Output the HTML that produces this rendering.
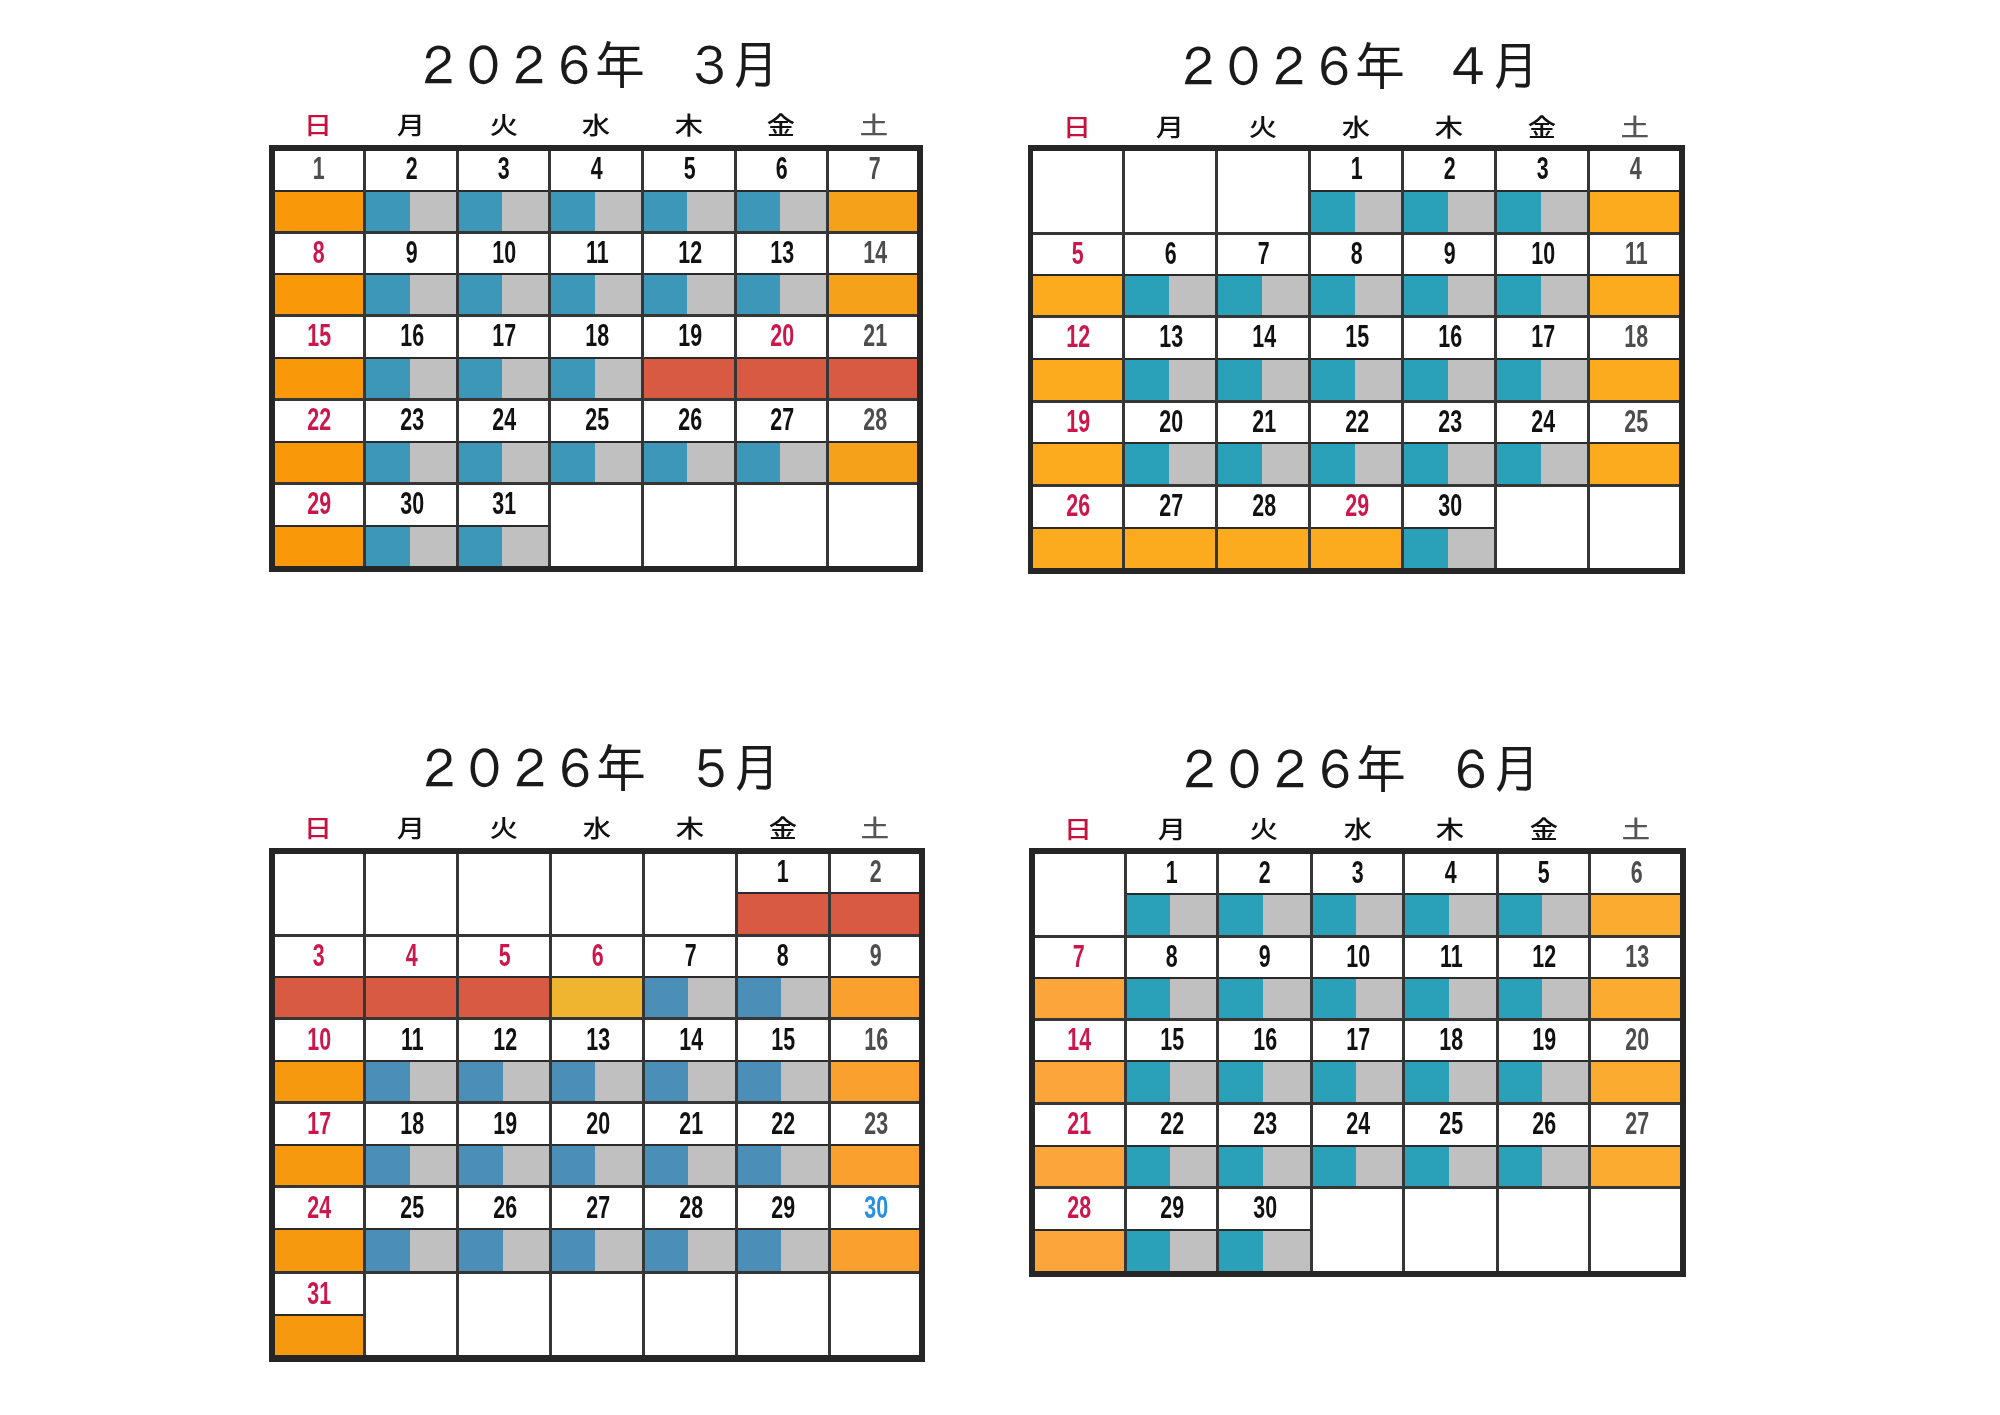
<!DOCTYPE html>
<html lang="ja"><head><meta charset="utf-8"><title>2026年 カレンダー</title>
<style>
html,body{margin:0;padding:0;background:#fff}
body{width:2000px;height:1415px;position:relative;overflow:hidden;filter:blur(0.6px);font-family:"Liberation Sans","Noto Sans CJK JP",sans-serif}
i{position:absolute;display:block}
.t{position:absolute;width:500px;height:80px;line-height:80px;text-align:center;white-space:pre;
   font-family:"Liberation Sans","IPAGothic","Noto Sans CJK JP",sans-serif;font-size:51px;letter-spacing:-5.7px;color:#1a1a1a;
   transform:scaleY(1.03);transform-origin:50% 50%}
.t .d{position:relative;top:2.3px}
.h{position:absolute;width:60px;height:40px;line-height:40px;text-align:center;
   font-family:"Liberation Sans","Noto Sans CJK JP","IPAGothic",sans-serif;font-size:24px;font-weight:500;color:#111}
.h span{display:inline-block;transform:scaleX(1.18)}
.h.sun{color:#c4123f}
.h.sat{color:#555}
.n{position:absolute;width:60px;height:40px;line-height:40px;text-align:center;
   font-family:"Liberation Sans",sans-serif;font-weight:bold;font-size:31px;color:#111}
.n span{display:inline-block;transform:scaleX(0.69)}
.n.red{color:#cb174b}
.n.blu{color:#2a8fdc}
.n.gry{color:#4d4d4d}
</style></head>
<body>
<!-- ２０２６年　３月 -->
<div class="t" style="left:344px;top:26px"><span class="d">２０２６</span>年　<span class="d">３</span>月</div>
<div class="h sun" style="left:288px;top:106px"><span>日</span></div>
<div class="h" style="left:381px;top:106px"><span>月</span></div>
<div class="h" style="left:474px;top:106px"><span>火</span></div>
<div class="h" style="left:566px;top:106px"><span>水</span></div>
<div class="h" style="left:659px;top:106px"><span>木</span></div>
<div class="h" style="left:751px;top:106px"><span>金</span></div>
<div class="h sat" style="left:844px;top:106px"><span>土</span></div>
<i style="left:272px;top:191px;width:93px;height:42px;background:#f99808"></i>
<i style="left:272px;top:190px;width:93px;height:2px;background:#2a2a2a"></i>
<div class="n gry" style="left:289px;top:149px"><span>1</span></div>
<i style="left:365px;top:191px;width:45px;height:42px;background:#3c97b8"></i>
<i style="left:410px;top:191px;width:47px;height:42px;background:#c0c0c0"></i>
<i style="left:365px;top:190px;width:93px;height:2px;background:#2a2a2a"></i>
<div class="n" style="left:382px;top:149px"><span>2</span></div>
<i style="left:457px;top:191px;width:45px;height:42px;background:#3c97b8"></i>
<i style="left:502px;top:191px;width:48px;height:42px;background:#c0c0c0"></i>
<i style="left:457px;top:190px;width:93px;height:2px;background:#2a2a2a"></i>
<div class="n" style="left:474px;top:149px"><span>3</span></div>
<i style="left:550px;top:191px;width:45px;height:42px;background:#3c97b8"></i>
<i style="left:595px;top:191px;width:47px;height:42px;background:#c0c0c0"></i>
<i style="left:550px;top:190px;width:93px;height:2px;background:#2a2a2a"></i>
<div class="n" style="left:567px;top:149px"><span>4</span></div>
<i style="left:642px;top:191px;width:45px;height:42px;background:#3c97b8"></i>
<i style="left:687px;top:191px;width:48px;height:42px;background:#c0c0c0"></i>
<i style="left:642px;top:190px;width:93px;height:2px;background:#2a2a2a"></i>
<div class="n" style="left:660px;top:149px"><span>5</span></div>
<i style="left:735px;top:191px;width:45px;height:42px;background:#3c97b8"></i>
<i style="left:780px;top:191px;width:48px;height:42px;background:#c0c0c0"></i>
<i style="left:735px;top:190px;width:93px;height:2px;background:#2a2a2a"></i>
<div class="n" style="left:752px;top:149px"><span>6</span></div>
<i style="left:828px;top:191px;width:92px;height:42px;background:#f6a11a"></i>
<i style="left:828px;top:190px;width:93px;height:2px;background:#2a2a2a"></i>
<div class="n gry" style="left:845px;top:149px"><span>7</span></div>
<i style="left:272px;top:274px;width:93px;height:41px;background:#f99808"></i>
<i style="left:272px;top:273px;width:93px;height:2px;background:#2a2a2a"></i>
<div class="n red" style="left:289px;top:233px"><span>8</span></div>
<i style="left:365px;top:274px;width:45px;height:41px;background:#3c97b8"></i>
<i style="left:410px;top:274px;width:47px;height:41px;background:#c0c0c0"></i>
<i style="left:365px;top:273px;width:93px;height:2px;background:#2a2a2a"></i>
<div class="n" style="left:382px;top:233px"><span>9</span></div>
<i style="left:457px;top:274px;width:45px;height:41px;background:#3c97b8"></i>
<i style="left:502px;top:274px;width:48px;height:41px;background:#c0c0c0"></i>
<i style="left:457px;top:273px;width:93px;height:2px;background:#2a2a2a"></i>
<div class="n" style="left:474px;top:233px"><span>10</span></div>
<i style="left:550px;top:274px;width:45px;height:41px;background:#3c97b8"></i>
<i style="left:595px;top:274px;width:47px;height:41px;background:#c0c0c0"></i>
<i style="left:550px;top:273px;width:93px;height:2px;background:#2a2a2a"></i>
<div class="n" style="left:567px;top:233px"><span>11</span></div>
<i style="left:642px;top:274px;width:45px;height:41px;background:#3c97b8"></i>
<i style="left:687px;top:274px;width:48px;height:41px;background:#c0c0c0"></i>
<i style="left:642px;top:273px;width:93px;height:2px;background:#2a2a2a"></i>
<div class="n" style="left:660px;top:233px"><span>12</span></div>
<i style="left:735px;top:274px;width:45px;height:41px;background:#3c97b8"></i>
<i style="left:780px;top:274px;width:48px;height:41px;background:#c0c0c0"></i>
<i style="left:735px;top:273px;width:93px;height:2px;background:#2a2a2a"></i>
<div class="n" style="left:752px;top:233px"><span>13</span></div>
<i style="left:828px;top:274px;width:92px;height:41px;background:#f6a11a"></i>
<i style="left:828px;top:273px;width:93px;height:2px;background:#2a2a2a"></i>
<div class="n gry" style="left:845px;top:233px"><span>14</span></div>
<i style="left:272px;top:358px;width:93px;height:42px;background:#f99808"></i>
<i style="left:272px;top:357px;width:93px;height:2px;background:#2a2a2a"></i>
<div class="n red" style="left:289px;top:316px"><span>15</span></div>
<i style="left:365px;top:358px;width:45px;height:42px;background:#3c97b8"></i>
<i style="left:410px;top:358px;width:47px;height:42px;background:#c0c0c0"></i>
<i style="left:365px;top:357px;width:93px;height:2px;background:#2a2a2a"></i>
<div class="n" style="left:382px;top:316px"><span>16</span></div>
<i style="left:457px;top:358px;width:45px;height:42px;background:#3c97b8"></i>
<i style="left:502px;top:358px;width:48px;height:42px;background:#c0c0c0"></i>
<i style="left:457px;top:357px;width:93px;height:2px;background:#2a2a2a"></i>
<div class="n" style="left:474px;top:316px"><span>17</span></div>
<i style="left:550px;top:358px;width:45px;height:42px;background:#3c97b8"></i>
<i style="left:595px;top:358px;width:47px;height:42px;background:#c0c0c0"></i>
<i style="left:550px;top:357px;width:93px;height:2px;background:#2a2a2a"></i>
<div class="n" style="left:567px;top:316px"><span>18</span></div>
<i style="left:642px;top:358px;width:93px;height:42px;background:#d95a42"></i>
<i style="left:642px;top:357px;width:93px;height:2px;background:#2a2a2a"></i>
<div class="n" style="left:660px;top:316px"><span>19</span></div>
<i style="left:735px;top:358px;width:93px;height:42px;background:#d95a42"></i>
<i style="left:735px;top:357px;width:93px;height:2px;background:#2a2a2a"></i>
<div class="n red" style="left:752px;top:316px"><span>20</span></div>
<i style="left:828px;top:358px;width:92px;height:42px;background:#d95a42"></i>
<i style="left:828px;top:357px;width:93px;height:2px;background:#2a2a2a"></i>
<div class="n gry" style="left:845px;top:316px"><span>21</span></div>
<i style="left:272px;top:442px;width:93px;height:41px;background:#f99808"></i>
<i style="left:272px;top:441px;width:93px;height:2px;background:#2a2a2a"></i>
<div class="n red" style="left:289px;top:400px"><span>22</span></div>
<i style="left:365px;top:442px;width:45px;height:41px;background:#3c97b8"></i>
<i style="left:410px;top:442px;width:47px;height:41px;background:#c0c0c0"></i>
<i style="left:365px;top:441px;width:93px;height:2px;background:#2a2a2a"></i>
<div class="n" style="left:382px;top:400px"><span>23</span></div>
<i style="left:457px;top:442px;width:45px;height:41px;background:#3c97b8"></i>
<i style="left:502px;top:442px;width:48px;height:41px;background:#c0c0c0"></i>
<i style="left:457px;top:441px;width:93px;height:2px;background:#2a2a2a"></i>
<div class="n" style="left:474px;top:400px"><span>24</span></div>
<i style="left:550px;top:442px;width:45px;height:41px;background:#3c97b8"></i>
<i style="left:595px;top:442px;width:47px;height:41px;background:#c0c0c0"></i>
<i style="left:550px;top:441px;width:93px;height:2px;background:#2a2a2a"></i>
<div class="n" style="left:567px;top:400px"><span>25</span></div>
<i style="left:642px;top:442px;width:45px;height:41px;background:#3c97b8"></i>
<i style="left:687px;top:442px;width:48px;height:41px;background:#c0c0c0"></i>
<i style="left:642px;top:441px;width:93px;height:2px;background:#2a2a2a"></i>
<div class="n" style="left:660px;top:400px"><span>26</span></div>
<i style="left:735px;top:442px;width:45px;height:41px;background:#3c97b8"></i>
<i style="left:780px;top:442px;width:48px;height:41px;background:#c0c0c0"></i>
<i style="left:735px;top:441px;width:93px;height:2px;background:#2a2a2a"></i>
<div class="n" style="left:752px;top:400px"><span>27</span></div>
<i style="left:828px;top:442px;width:92px;height:41px;background:#f6a11a"></i>
<i style="left:828px;top:441px;width:93px;height:2px;background:#2a2a2a"></i>
<div class="n gry" style="left:845px;top:400px"><span>28</span></div>
<i style="left:272px;top:526px;width:93px;height:43px;background:#f99808"></i>
<i style="left:272px;top:525px;width:93px;height:2px;background:#2a2a2a"></i>
<div class="n red" style="left:289px;top:484px"><span>29</span></div>
<i style="left:365px;top:526px;width:45px;height:43px;background:#3c97b8"></i>
<i style="left:410px;top:526px;width:47px;height:43px;background:#c0c0c0"></i>
<i style="left:365px;top:525px;width:93px;height:2px;background:#2a2a2a"></i>
<div class="n" style="left:382px;top:484px"><span>30</span></div>
<i style="left:457px;top:526px;width:45px;height:43px;background:#3c97b8"></i>
<i style="left:502px;top:526px;width:48px;height:43px;background:#c0c0c0"></i>
<i style="left:457px;top:525px;width:93px;height:2px;background:#2a2a2a"></i>
<div class="n" style="left:474px;top:484px"><span>31</span></div>
<i style="left:272px;top:231px;width:648px;height:3px;background:#363636"></i>
<i style="left:272px;top:314px;width:648px;height:3px;background:#363636"></i>
<i style="left:272px;top:398px;width:648px;height:3px;background:#363636"></i>
<i style="left:272px;top:482px;width:648px;height:3px;background:#363636"></i>
<i style="left:363px;top:148px;width:3px;height:421px;background:#363636"></i>
<i style="left:456px;top:148px;width:3px;height:421px;background:#363636"></i>
<i style="left:548px;top:148px;width:3px;height:421px;background:#363636"></i>
<i style="left:641px;top:148px;width:3px;height:421px;background:#363636"></i>
<i style="left:734px;top:148px;width:3px;height:421px;background:#363636"></i>
<i style="left:826px;top:148px;width:3px;height:421px;background:#363636"></i>
<i style="left:269px;top:145px;width:654px;height:6px;background:#262626"></i>
<i style="left:269px;top:566px;width:654px;height:6px;background:#262626"></i>
<i style="left:269px;top:145px;width:6px;height:427px;background:#262626"></i>
<i style="left:917px;top:145px;width:6px;height:427px;background:#262626"></i>
<!-- ２０２６年　４月 -->
<div class="t" style="left:1104px;top:27px"><span class="d">２０２６</span>年　<span class="d">４</span>月</div>
<div class="h sun" style="left:1047px;top:108px"><span>日</span></div>
<div class="h" style="left:1140px;top:108px"><span>月</span></div>
<div class="h" style="left:1233px;top:108px"><span>火</span></div>
<div class="h" style="left:1326px;top:108px"><span>水</span></div>
<div class="h" style="left:1419px;top:108px"><span>木</span></div>
<div class="h" style="left:1512px;top:108px"><span>金</span></div>
<div class="h sat" style="left:1605px;top:108px"><span>土</span></div>
<i style="left:1310px;top:191px;width:45px;height:42px;background:#2aa1b9"></i>
<i style="left:1355px;top:191px;width:48px;height:42px;background:#c0c0c0"></i>
<i style="left:1310px;top:190px;width:93px;height:2px;background:#2a2a2a"></i>
<div class="n" style="left:1327px;top:149px"><span>1</span></div>
<i style="left:1403px;top:191px;width:45px;height:42px;background:#2aa1b9"></i>
<i style="left:1448px;top:191px;width:48px;height:42px;background:#c0c0c0"></i>
<i style="left:1403px;top:190px;width:93px;height:2px;background:#2a2a2a"></i>
<div class="n" style="left:1420px;top:149px"><span>2</span></div>
<i style="left:1496px;top:191px;width:45px;height:42px;background:#2aa1b9"></i>
<i style="left:1541px;top:191px;width:48px;height:42px;background:#c0c0c0"></i>
<i style="left:1496px;top:190px;width:93px;height:2px;background:#2a2a2a"></i>
<div class="n" style="left:1513px;top:149px"><span>3</span></div>
<i style="left:1589px;top:191px;width:93px;height:42px;background:#fcab1e"></i>
<i style="left:1589px;top:190px;width:93px;height:2px;background:#2a2a2a"></i>
<div class="n gry" style="left:1606px;top:149px"><span>4</span></div>
<i style="left:1031px;top:275px;width:93px;height:41px;background:#fcab1e"></i>
<i style="left:1031px;top:274px;width:93px;height:2px;background:#2a2a2a"></i>
<div class="n red" style="left:1048px;top:234px"><span>5</span></div>
<i style="left:1124px;top:275px;width:45px;height:41px;background:#2aa1b9"></i>
<i style="left:1169px;top:275px;width:48px;height:41px;background:#c0c0c0"></i>
<i style="left:1124px;top:274px;width:93px;height:2px;background:#2a2a2a"></i>
<div class="n" style="left:1141px;top:234px"><span>6</span></div>
<i style="left:1217px;top:275px;width:45px;height:41px;background:#2aa1b9"></i>
<i style="left:1262px;top:275px;width:48px;height:41px;background:#c0c0c0"></i>
<i style="left:1217px;top:274px;width:93px;height:2px;background:#2a2a2a"></i>
<div class="n" style="left:1234px;top:234px"><span>7</span></div>
<i style="left:1310px;top:275px;width:45px;height:41px;background:#2aa1b9"></i>
<i style="left:1355px;top:275px;width:48px;height:41px;background:#c0c0c0"></i>
<i style="left:1310px;top:274px;width:93px;height:2px;background:#2a2a2a"></i>
<div class="n" style="left:1327px;top:234px"><span>8</span></div>
<i style="left:1403px;top:275px;width:45px;height:41px;background:#2aa1b9"></i>
<i style="left:1448px;top:275px;width:48px;height:41px;background:#c0c0c0"></i>
<i style="left:1403px;top:274px;width:93px;height:2px;background:#2a2a2a"></i>
<div class="n" style="left:1420px;top:234px"><span>9</span></div>
<i style="left:1496px;top:275px;width:45px;height:41px;background:#2aa1b9"></i>
<i style="left:1541px;top:275px;width:48px;height:41px;background:#c0c0c0"></i>
<i style="left:1496px;top:274px;width:93px;height:2px;background:#2a2a2a"></i>
<div class="n" style="left:1513px;top:234px"><span>10</span></div>
<i style="left:1589px;top:275px;width:93px;height:41px;background:#fcab1e"></i>
<i style="left:1589px;top:274px;width:93px;height:2px;background:#2a2a2a"></i>
<div class="n gry" style="left:1606px;top:234px"><span>11</span></div>
<i style="left:1031px;top:359px;width:93px;height:42px;background:#fcab1e"></i>
<i style="left:1031px;top:358px;width:93px;height:2px;background:#2a2a2a"></i>
<div class="n red" style="left:1048px;top:317px"><span>12</span></div>
<i style="left:1124px;top:359px;width:45px;height:42px;background:#2aa1b9"></i>
<i style="left:1169px;top:359px;width:48px;height:42px;background:#c0c0c0"></i>
<i style="left:1124px;top:358px;width:93px;height:2px;background:#2a2a2a"></i>
<div class="n" style="left:1141px;top:317px"><span>13</span></div>
<i style="left:1217px;top:359px;width:45px;height:42px;background:#2aa1b9"></i>
<i style="left:1262px;top:359px;width:48px;height:42px;background:#c0c0c0"></i>
<i style="left:1217px;top:358px;width:93px;height:2px;background:#2a2a2a"></i>
<div class="n" style="left:1234px;top:317px"><span>14</span></div>
<i style="left:1310px;top:359px;width:45px;height:42px;background:#2aa1b9"></i>
<i style="left:1355px;top:359px;width:48px;height:42px;background:#c0c0c0"></i>
<i style="left:1310px;top:358px;width:93px;height:2px;background:#2a2a2a"></i>
<div class="n" style="left:1327px;top:317px"><span>15</span></div>
<i style="left:1403px;top:359px;width:45px;height:42px;background:#2aa1b9"></i>
<i style="left:1448px;top:359px;width:48px;height:42px;background:#c0c0c0"></i>
<i style="left:1403px;top:358px;width:93px;height:2px;background:#2a2a2a"></i>
<div class="n" style="left:1420px;top:317px"><span>16</span></div>
<i style="left:1496px;top:359px;width:45px;height:42px;background:#2aa1b9"></i>
<i style="left:1541px;top:359px;width:48px;height:42px;background:#c0c0c0"></i>
<i style="left:1496px;top:358px;width:93px;height:2px;background:#2a2a2a"></i>
<div class="n" style="left:1513px;top:317px"><span>17</span></div>
<i style="left:1589px;top:359px;width:93px;height:42px;background:#fcab1e"></i>
<i style="left:1589px;top:358px;width:93px;height:2px;background:#2a2a2a"></i>
<div class="n gry" style="left:1606px;top:317px"><span>18</span></div>
<i style="left:1031px;top:443px;width:93px;height:42px;background:#fcab1e"></i>
<i style="left:1031px;top:442px;width:93px;height:2px;background:#2a2a2a"></i>
<div class="n red" style="left:1048px;top:402px"><span>19</span></div>
<i style="left:1124px;top:443px;width:45px;height:42px;background:#2aa1b9"></i>
<i style="left:1169px;top:443px;width:48px;height:42px;background:#c0c0c0"></i>
<i style="left:1124px;top:442px;width:93px;height:2px;background:#2a2a2a"></i>
<div class="n" style="left:1141px;top:402px"><span>20</span></div>
<i style="left:1217px;top:443px;width:45px;height:42px;background:#2aa1b9"></i>
<i style="left:1262px;top:443px;width:48px;height:42px;background:#c0c0c0"></i>
<i style="left:1217px;top:442px;width:93px;height:2px;background:#2a2a2a"></i>
<div class="n" style="left:1234px;top:402px"><span>21</span></div>
<i style="left:1310px;top:443px;width:45px;height:42px;background:#2aa1b9"></i>
<i style="left:1355px;top:443px;width:48px;height:42px;background:#c0c0c0"></i>
<i style="left:1310px;top:442px;width:93px;height:2px;background:#2a2a2a"></i>
<div class="n" style="left:1327px;top:402px"><span>22</span></div>
<i style="left:1403px;top:443px;width:45px;height:42px;background:#2aa1b9"></i>
<i style="left:1448px;top:443px;width:48px;height:42px;background:#c0c0c0"></i>
<i style="left:1403px;top:442px;width:93px;height:2px;background:#2a2a2a"></i>
<div class="n" style="left:1420px;top:402px"><span>23</span></div>
<i style="left:1496px;top:443px;width:45px;height:42px;background:#2aa1b9"></i>
<i style="left:1541px;top:443px;width:48px;height:42px;background:#c0c0c0"></i>
<i style="left:1496px;top:442px;width:93px;height:2px;background:#2a2a2a"></i>
<div class="n" style="left:1513px;top:402px"><span>24</span></div>
<i style="left:1589px;top:443px;width:93px;height:42px;background:#fcab1e"></i>
<i style="left:1589px;top:442px;width:93px;height:2px;background:#2a2a2a"></i>
<div class="n gry" style="left:1606px;top:402px"><span>25</span></div>
<i style="left:1031px;top:528px;width:93px;height:43px;background:#fcab1e"></i>
<i style="left:1031px;top:527px;width:93px;height:2px;background:#2a2a2a"></i>
<div class="n red" style="left:1048px;top:486px"><span>26</span></div>
<i style="left:1124px;top:528px;width:93px;height:43px;background:#fcab1e"></i>
<i style="left:1124px;top:527px;width:93px;height:2px;background:#2a2a2a"></i>
<div class="n" style="left:1141px;top:486px"><span>27</span></div>
<i style="left:1217px;top:528px;width:93px;height:43px;background:#fcab1e"></i>
<i style="left:1217px;top:527px;width:93px;height:2px;background:#2a2a2a"></i>
<div class="n" style="left:1234px;top:486px"><span>28</span></div>
<i style="left:1310px;top:528px;width:93px;height:43px;background:#fcab1e"></i>
<i style="left:1310px;top:527px;width:93px;height:2px;background:#2a2a2a"></i>
<div class="n red" style="left:1327px;top:486px"><span>29</span></div>
<i style="left:1403px;top:528px;width:45px;height:43px;background:#2aa1b9"></i>
<i style="left:1448px;top:528px;width:48px;height:43px;background:#c0c0c0"></i>
<i style="left:1403px;top:527px;width:93px;height:2px;background:#2a2a2a"></i>
<div class="n" style="left:1420px;top:486px"><span>30</span></div>
<i style="left:1031px;top:232px;width:651px;height:3px;background:#363636"></i>
<i style="left:1031px;top:315px;width:651px;height:3px;background:#363636"></i>
<i style="left:1031px;top:400px;width:651px;height:3px;background:#363636"></i>
<i style="left:1031px;top:484px;width:651px;height:3px;background:#363636"></i>
<i style="left:1122px;top:148px;width:3px;height:423px;background:#363636"></i>
<i style="left:1215px;top:148px;width:3px;height:423px;background:#363636"></i>
<i style="left:1308px;top:148px;width:3px;height:423px;background:#363636"></i>
<i style="left:1401px;top:148px;width:3px;height:423px;background:#363636"></i>
<i style="left:1494px;top:148px;width:3px;height:423px;background:#363636"></i>
<i style="left:1587px;top:148px;width:3px;height:423px;background:#363636"></i>
<i style="left:1028px;top:145px;width:657px;height:6px;background:#262626"></i>
<i style="left:1028px;top:568px;width:657px;height:6px;background:#262626"></i>
<i style="left:1028px;top:145px;width:5px;height:429px;background:#262626"></i>
<i style="left:1679px;top:145px;width:6px;height:429px;background:#262626"></i>
<!-- ２０２６年　５月 -->
<div class="t" style="left:345px;top:729px"><span class="d">２０２６</span>年　<span class="d">５</span>月</div>
<div class="h sun" style="left:288px;top:809px"><span>日</span></div>
<div class="h" style="left:381px;top:809px"><span>月</span></div>
<div class="h" style="left:474px;top:809px"><span>火</span></div>
<div class="h" style="left:567px;top:809px"><span>水</span></div>
<div class="h" style="left:660px;top:809px"><span>木</span></div>
<div class="h" style="left:753px;top:809px"><span>金</span></div>
<div class="h sat" style="left:845px;top:809px"><span>土</span></div>
<i style="left:736px;top:894px;width:93px;height:41px;background:#d95a42"></i>
<i style="left:736px;top:892px;width:93px;height:2px;background:#2a2a2a"></i>
<div class="n" style="left:753px;top:852px"><span>1</span></div>
<i style="left:829px;top:894px;width:93px;height:41px;background:#d95a42"></i>
<i style="left:829px;top:892px;width:93px;height:2px;background:#2a2a2a"></i>
<div class="n gry" style="left:846px;top:852px"><span>2</span></div>
<i style="left:272px;top:977px;width:93px;height:42px;background:#d95a42"></i>
<i style="left:272px;top:976px;width:93px;height:2px;background:#2a2a2a"></i>
<div class="n red" style="left:289px;top:936px"><span>3</span></div>
<i style="left:365px;top:977px;width:93px;height:42px;background:#d95a42"></i>
<i style="left:365px;top:976px;width:93px;height:2px;background:#2a2a2a"></i>
<div class="n red" style="left:382px;top:936px"><span>4</span></div>
<i style="left:458px;top:977px;width:92px;height:42px;background:#d95a42"></i>
<i style="left:458px;top:976px;width:93px;height:2px;background:#2a2a2a"></i>
<div class="n red" style="left:475px;top:936px"><span>5</span></div>
<i style="left:550px;top:977px;width:93px;height:42px;background:#f0b530"></i>
<i style="left:550px;top:976px;width:93px;height:2px;background:#2a2a2a"></i>
<div class="n red" style="left:568px;top:936px"><span>6</span></div>
<i style="left:643px;top:977px;width:45px;height:42px;background:#4b8eb8"></i>
<i style="left:688px;top:977px;width:48px;height:42px;background:#c0c0c0"></i>
<i style="left:643px;top:976px;width:93px;height:2px;background:#2a2a2a"></i>
<div class="n" style="left:661px;top:936px"><span>7</span></div>
<i style="left:736px;top:977px;width:45px;height:42px;background:#4b8eb8"></i>
<i style="left:781px;top:977px;width:48px;height:42px;background:#c0c0c0"></i>
<i style="left:736px;top:976px;width:93px;height:2px;background:#2a2a2a"></i>
<div class="n" style="left:753px;top:936px"><span>8</span></div>
<i style="left:829px;top:977px;width:93px;height:42px;background:#f9a02e"></i>
<i style="left:829px;top:976px;width:93px;height:2px;background:#2a2a2a"></i>
<div class="n gry" style="left:846px;top:936px"><span>9</span></div>
<i style="left:272px;top:1061px;width:93px;height:41px;background:#f6990f"></i>
<i style="left:272px;top:1060px;width:93px;height:2px;background:#2a2a2a"></i>
<div class="n red" style="left:289px;top:1020px"><span>10</span></div>
<i style="left:365px;top:1061px;width:45px;height:41px;background:#4b8eb8"></i>
<i style="left:410px;top:1061px;width:48px;height:41px;background:#c0c0c0"></i>
<i style="left:365px;top:1060px;width:93px;height:2px;background:#2a2a2a"></i>
<div class="n" style="left:382px;top:1020px"><span>11</span></div>
<i style="left:458px;top:1061px;width:45px;height:41px;background:#4b8eb8"></i>
<i style="left:503px;top:1061px;width:47px;height:41px;background:#c0c0c0"></i>
<i style="left:458px;top:1060px;width:93px;height:2px;background:#2a2a2a"></i>
<div class="n" style="left:475px;top:1020px"><span>12</span></div>
<i style="left:550px;top:1061px;width:45px;height:41px;background:#4b8eb8"></i>
<i style="left:595px;top:1061px;width:48px;height:41px;background:#c0c0c0"></i>
<i style="left:550px;top:1060px;width:93px;height:2px;background:#2a2a2a"></i>
<div class="n" style="left:568px;top:1020px"><span>13</span></div>
<i style="left:643px;top:1061px;width:45px;height:41px;background:#4b8eb8"></i>
<i style="left:688px;top:1061px;width:48px;height:41px;background:#c0c0c0"></i>
<i style="left:643px;top:1060px;width:93px;height:2px;background:#2a2a2a"></i>
<div class="n" style="left:661px;top:1020px"><span>14</span></div>
<i style="left:736px;top:1061px;width:45px;height:41px;background:#4b8eb8"></i>
<i style="left:781px;top:1061px;width:48px;height:41px;background:#c0c0c0"></i>
<i style="left:736px;top:1060px;width:93px;height:2px;background:#2a2a2a"></i>
<div class="n" style="left:753px;top:1020px"><span>15</span></div>
<i style="left:829px;top:1061px;width:93px;height:41px;background:#f9a02e"></i>
<i style="left:829px;top:1060px;width:93px;height:2px;background:#2a2a2a"></i>
<div class="n gry" style="left:846px;top:1020px"><span>16</span></div>
<i style="left:272px;top:1145px;width:93px;height:41px;background:#f6990f"></i>
<i style="left:272px;top:1144px;width:93px;height:2px;background:#2a2a2a"></i>
<div class="n red" style="left:289px;top:1104px"><span>17</span></div>
<i style="left:365px;top:1145px;width:45px;height:41px;background:#4b8eb8"></i>
<i style="left:410px;top:1145px;width:48px;height:41px;background:#c0c0c0"></i>
<i style="left:365px;top:1144px;width:93px;height:2px;background:#2a2a2a"></i>
<div class="n" style="left:382px;top:1104px"><span>18</span></div>
<i style="left:458px;top:1145px;width:45px;height:41px;background:#4b8eb8"></i>
<i style="left:503px;top:1145px;width:47px;height:41px;background:#c0c0c0"></i>
<i style="left:458px;top:1144px;width:93px;height:2px;background:#2a2a2a"></i>
<div class="n" style="left:475px;top:1104px"><span>19</span></div>
<i style="left:550px;top:1145px;width:45px;height:41px;background:#4b8eb8"></i>
<i style="left:595px;top:1145px;width:48px;height:41px;background:#c0c0c0"></i>
<i style="left:550px;top:1144px;width:93px;height:2px;background:#2a2a2a"></i>
<div class="n" style="left:568px;top:1104px"><span>20</span></div>
<i style="left:643px;top:1145px;width:45px;height:41px;background:#4b8eb8"></i>
<i style="left:688px;top:1145px;width:48px;height:41px;background:#c0c0c0"></i>
<i style="left:643px;top:1144px;width:93px;height:2px;background:#2a2a2a"></i>
<div class="n" style="left:661px;top:1104px"><span>21</span></div>
<i style="left:736px;top:1145px;width:45px;height:41px;background:#4b8eb8"></i>
<i style="left:781px;top:1145px;width:48px;height:41px;background:#c0c0c0"></i>
<i style="left:736px;top:1144px;width:93px;height:2px;background:#2a2a2a"></i>
<div class="n" style="left:753px;top:1104px"><span>22</span></div>
<i style="left:829px;top:1145px;width:93px;height:41px;background:#f9a02e"></i>
<i style="left:829px;top:1144px;width:93px;height:2px;background:#2a2a2a"></i>
<div class="n gry" style="left:846px;top:1104px"><span>23</span></div>
<i style="left:272px;top:1230px;width:93px;height:43px;background:#f6990f"></i>
<i style="left:272px;top:1228px;width:93px;height:2px;background:#2a2a2a"></i>
<div class="n red" style="left:289px;top:1188px"><span>24</span></div>
<i style="left:365px;top:1230px;width:45px;height:43px;background:#4b8eb8"></i>
<i style="left:410px;top:1230px;width:48px;height:43px;background:#c0c0c0"></i>
<i style="left:365px;top:1228px;width:93px;height:2px;background:#2a2a2a"></i>
<div class="n" style="left:382px;top:1188px"><span>25</span></div>
<i style="left:458px;top:1230px;width:45px;height:43px;background:#4b8eb8"></i>
<i style="left:503px;top:1230px;width:47px;height:43px;background:#c0c0c0"></i>
<i style="left:458px;top:1228px;width:93px;height:2px;background:#2a2a2a"></i>
<div class="n" style="left:475px;top:1188px"><span>26</span></div>
<i style="left:550px;top:1230px;width:45px;height:43px;background:#4b8eb8"></i>
<i style="left:595px;top:1230px;width:48px;height:43px;background:#c0c0c0"></i>
<i style="left:550px;top:1228px;width:93px;height:2px;background:#2a2a2a"></i>
<div class="n" style="left:568px;top:1188px"><span>27</span></div>
<i style="left:643px;top:1230px;width:45px;height:43px;background:#4b8eb8"></i>
<i style="left:688px;top:1230px;width:48px;height:43px;background:#c0c0c0"></i>
<i style="left:643px;top:1228px;width:93px;height:2px;background:#2a2a2a"></i>
<div class="n" style="left:661px;top:1188px"><span>28</span></div>
<i style="left:736px;top:1230px;width:45px;height:43px;background:#4b8eb8"></i>
<i style="left:781px;top:1230px;width:48px;height:43px;background:#c0c0c0"></i>
<i style="left:736px;top:1228px;width:93px;height:2px;background:#2a2a2a"></i>
<div class="n" style="left:753px;top:1188px"><span>29</span></div>
<i style="left:829px;top:1230px;width:93px;height:43px;background:#f9a02e"></i>
<i style="left:829px;top:1228px;width:93px;height:2px;background:#2a2a2a"></i>
<div class="n blu" style="left:846px;top:1188px"><span>30</span></div>
<i style="left:272px;top:1316px;width:93px;height:43px;background:#f6990f"></i>
<i style="left:272px;top:1314px;width:93px;height:2px;background:#2a2a2a"></i>
<div class="n red" style="left:289px;top:1274px"><span>31</span></div>
<i style="left:272px;top:934px;width:650px;height:3px;background:#363636"></i>
<i style="left:272px;top:1017px;width:650px;height:3px;background:#363636"></i>
<i style="left:272px;top:1101px;width:650px;height:3px;background:#363636"></i>
<i style="left:272px;top:1185px;width:650px;height:3px;background:#363636"></i>
<i style="left:272px;top:1271px;width:650px;height:3px;background:#363636"></i>
<i style="left:363px;top:851px;width:3px;height:508px;background:#363636"></i>
<i style="left:456px;top:851px;width:3px;height:508px;background:#363636"></i>
<i style="left:549px;top:851px;width:3px;height:508px;background:#363636"></i>
<i style="left:642px;top:851px;width:3px;height:508px;background:#363636"></i>
<i style="left:735px;top:851px;width:3px;height:508px;background:#363636"></i>
<i style="left:828px;top:851px;width:3px;height:508px;background:#363636"></i>
<i style="left:269px;top:848px;width:656px;height:6px;background:#262626"></i>
<i style="left:269px;top:1355px;width:656px;height:7px;background:#262626"></i>
<i style="left:269px;top:848px;width:6px;height:514px;background:#262626"></i>
<i style="left:919px;top:848px;width:6px;height:514px;background:#262626"></i>
<!-- ２０２６年　６月 -->
<div class="t" style="left:1105px;top:730px"><span class="d">２０２６</span>年　<span class="d">６</span>月</div>
<div class="h sun" style="left:1048px;top:810px"><span>日</span></div>
<div class="h" style="left:1142px;top:810px"><span>月</span></div>
<div class="h" style="left:1234px;top:810px"><span>火</span></div>
<div class="h" style="left:1328px;top:810px"><span>水</span></div>
<div class="h" style="left:1420px;top:810px"><span>木</span></div>
<div class="h" style="left:1514px;top:810px"><span>金</span></div>
<div class="h sat" style="left:1606px;top:810px"><span>土</span></div>
<i style="left:1125px;top:894px;width:45px;height:42px;background:#2aa1b9"></i>
<i style="left:1170px;top:894px;width:48px;height:42px;background:#c0c0c0"></i>
<i style="left:1125px;top:893px;width:93px;height:2px;background:#2a2a2a"></i>
<div class="n" style="left:1142px;top:853px"><span>1</span></div>
<i style="left:1218px;top:894px;width:45px;height:42px;background:#2aa1b9"></i>
<i style="left:1263px;top:894px;width:48px;height:42px;background:#c0c0c0"></i>
<i style="left:1218px;top:893px;width:93px;height:2px;background:#2a2a2a"></i>
<div class="n" style="left:1235px;top:853px"><span>2</span></div>
<i style="left:1311px;top:894px;width:45px;height:42px;background:#2aa1b9"></i>
<i style="left:1356px;top:894px;width:48px;height:42px;background:#c0c0c0"></i>
<i style="left:1311px;top:893px;width:93px;height:2px;background:#2a2a2a"></i>
<div class="n" style="left:1328px;top:853px"><span>3</span></div>
<i style="left:1404px;top:894px;width:45px;height:42px;background:#2aa1b9"></i>
<i style="left:1449px;top:894px;width:48px;height:42px;background:#c0c0c0"></i>
<i style="left:1404px;top:893px;width:93px;height:2px;background:#2a2a2a"></i>
<div class="n" style="left:1421px;top:853px"><span>4</span></div>
<i style="left:1497px;top:894px;width:45px;height:42px;background:#2aa1b9"></i>
<i style="left:1542px;top:894px;width:48px;height:42px;background:#c0c0c0"></i>
<i style="left:1497px;top:893px;width:93px;height:2px;background:#2a2a2a"></i>
<div class="n" style="left:1514px;top:853px"><span>5</span></div>
<i style="left:1590px;top:894px;width:93px;height:42px;background:#fbab30"></i>
<i style="left:1590px;top:893px;width:93px;height:2px;background:#2a2a2a"></i>
<div class="n gry" style="left:1607px;top:853px"><span>6</span></div>
<i style="left:1032px;top:978px;width:93px;height:42px;background:#fba53a"></i>
<i style="left:1032px;top:977px;width:93px;height:2px;background:#2a2a2a"></i>
<div class="n red" style="left:1049px;top:937px"><span>7</span></div>
<i style="left:1125px;top:978px;width:45px;height:42px;background:#2aa1b9"></i>
<i style="left:1170px;top:978px;width:48px;height:42px;background:#c0c0c0"></i>
<i style="left:1125px;top:977px;width:93px;height:2px;background:#2a2a2a"></i>
<div class="n" style="left:1142px;top:937px"><span>8</span></div>
<i style="left:1218px;top:978px;width:45px;height:42px;background:#2aa1b9"></i>
<i style="left:1263px;top:978px;width:48px;height:42px;background:#c0c0c0"></i>
<i style="left:1218px;top:977px;width:93px;height:2px;background:#2a2a2a"></i>
<div class="n" style="left:1235px;top:937px"><span>9</span></div>
<i style="left:1311px;top:978px;width:45px;height:42px;background:#2aa1b9"></i>
<i style="left:1356px;top:978px;width:48px;height:42px;background:#c0c0c0"></i>
<i style="left:1311px;top:977px;width:93px;height:2px;background:#2a2a2a"></i>
<div class="n" style="left:1328px;top:937px"><span>10</span></div>
<i style="left:1404px;top:978px;width:45px;height:42px;background:#2aa1b9"></i>
<i style="left:1449px;top:978px;width:48px;height:42px;background:#c0c0c0"></i>
<i style="left:1404px;top:977px;width:93px;height:2px;background:#2a2a2a"></i>
<div class="n" style="left:1421px;top:937px"><span>11</span></div>
<i style="left:1497px;top:978px;width:45px;height:42px;background:#2aa1b9"></i>
<i style="left:1542px;top:978px;width:48px;height:42px;background:#c0c0c0"></i>
<i style="left:1497px;top:977px;width:93px;height:2px;background:#2a2a2a"></i>
<div class="n" style="left:1514px;top:937px"><span>12</span></div>
<i style="left:1590px;top:978px;width:93px;height:42px;background:#fbab30"></i>
<i style="left:1590px;top:977px;width:93px;height:2px;background:#2a2a2a"></i>
<div class="n gry" style="left:1607px;top:937px"><span>13</span></div>
<i style="left:1032px;top:1061px;width:93px;height:42px;background:#fba53a"></i>
<i style="left:1032px;top:1060px;width:93px;height:2px;background:#2a2a2a"></i>
<div class="n red" style="left:1049px;top:1020px"><span>14</span></div>
<i style="left:1125px;top:1061px;width:45px;height:42px;background:#2aa1b9"></i>
<i style="left:1170px;top:1061px;width:48px;height:42px;background:#c0c0c0"></i>
<i style="left:1125px;top:1060px;width:93px;height:2px;background:#2a2a2a"></i>
<div class="n" style="left:1142px;top:1020px"><span>15</span></div>
<i style="left:1218px;top:1061px;width:45px;height:42px;background:#2aa1b9"></i>
<i style="left:1263px;top:1061px;width:48px;height:42px;background:#c0c0c0"></i>
<i style="left:1218px;top:1060px;width:93px;height:2px;background:#2a2a2a"></i>
<div class="n" style="left:1235px;top:1020px"><span>16</span></div>
<i style="left:1311px;top:1061px;width:45px;height:42px;background:#2aa1b9"></i>
<i style="left:1356px;top:1061px;width:48px;height:42px;background:#c0c0c0"></i>
<i style="left:1311px;top:1060px;width:93px;height:2px;background:#2a2a2a"></i>
<div class="n" style="left:1328px;top:1020px"><span>17</span></div>
<i style="left:1404px;top:1061px;width:45px;height:42px;background:#2aa1b9"></i>
<i style="left:1449px;top:1061px;width:48px;height:42px;background:#c0c0c0"></i>
<i style="left:1404px;top:1060px;width:93px;height:2px;background:#2a2a2a"></i>
<div class="n" style="left:1421px;top:1020px"><span>18</span></div>
<i style="left:1497px;top:1061px;width:45px;height:42px;background:#2aa1b9"></i>
<i style="left:1542px;top:1061px;width:48px;height:42px;background:#c0c0c0"></i>
<i style="left:1497px;top:1060px;width:93px;height:2px;background:#2a2a2a"></i>
<div class="n" style="left:1514px;top:1020px"><span>19</span></div>
<i style="left:1590px;top:1061px;width:93px;height:42px;background:#fbab30"></i>
<i style="left:1590px;top:1060px;width:93px;height:2px;background:#2a2a2a"></i>
<div class="n gry" style="left:1607px;top:1020px"><span>20</span></div>
<i style="left:1032px;top:1146px;width:93px;height:42px;background:#fba53a"></i>
<i style="left:1032px;top:1145px;width:93px;height:2px;background:#2a2a2a"></i>
<div class="n red" style="left:1049px;top:1104px"><span>21</span></div>
<i style="left:1125px;top:1146px;width:45px;height:42px;background:#2aa1b9"></i>
<i style="left:1170px;top:1146px;width:48px;height:42px;background:#c0c0c0"></i>
<i style="left:1125px;top:1145px;width:93px;height:2px;background:#2a2a2a"></i>
<div class="n" style="left:1142px;top:1104px"><span>22</span></div>
<i style="left:1218px;top:1146px;width:45px;height:42px;background:#2aa1b9"></i>
<i style="left:1263px;top:1146px;width:48px;height:42px;background:#c0c0c0"></i>
<i style="left:1218px;top:1145px;width:93px;height:2px;background:#2a2a2a"></i>
<div class="n" style="left:1235px;top:1104px"><span>23</span></div>
<i style="left:1311px;top:1146px;width:45px;height:42px;background:#2aa1b9"></i>
<i style="left:1356px;top:1146px;width:48px;height:42px;background:#c0c0c0"></i>
<i style="left:1311px;top:1145px;width:93px;height:2px;background:#2a2a2a"></i>
<div class="n" style="left:1328px;top:1104px"><span>24</span></div>
<i style="left:1404px;top:1146px;width:45px;height:42px;background:#2aa1b9"></i>
<i style="left:1449px;top:1146px;width:48px;height:42px;background:#c0c0c0"></i>
<i style="left:1404px;top:1145px;width:93px;height:2px;background:#2a2a2a"></i>
<div class="n" style="left:1421px;top:1104px"><span>25</span></div>
<i style="left:1497px;top:1146px;width:45px;height:42px;background:#2aa1b9"></i>
<i style="left:1542px;top:1146px;width:48px;height:42px;background:#c0c0c0"></i>
<i style="left:1497px;top:1145px;width:93px;height:2px;background:#2a2a2a"></i>
<div class="n" style="left:1514px;top:1104px"><span>26</span></div>
<i style="left:1590px;top:1146px;width:93px;height:42px;background:#fbab30"></i>
<i style="left:1590px;top:1145px;width:93px;height:2px;background:#2a2a2a"></i>
<div class="n gry" style="left:1607px;top:1104px"><span>27</span></div>
<i style="left:1032px;top:1230px;width:93px;height:44px;background:#fba53a"></i>
<i style="left:1032px;top:1229px;width:93px;height:2px;background:#2a2a2a"></i>
<div class="n red" style="left:1049px;top:1188px"><span>28</span></div>
<i style="left:1125px;top:1230px;width:45px;height:44px;background:#2aa1b9"></i>
<i style="left:1170px;top:1230px;width:48px;height:44px;background:#c0c0c0"></i>
<i style="left:1125px;top:1229px;width:93px;height:2px;background:#2a2a2a"></i>
<div class="n" style="left:1142px;top:1188px"><span>29</span></div>
<i style="left:1218px;top:1230px;width:45px;height:44px;background:#2aa1b9"></i>
<i style="left:1263px;top:1230px;width:48px;height:44px;background:#c0c0c0"></i>
<i style="left:1218px;top:1229px;width:93px;height:2px;background:#2a2a2a"></i>
<div class="n" style="left:1235px;top:1188px"><span>30</span></div>
<i style="left:1032px;top:935px;width:651px;height:3px;background:#363636"></i>
<i style="left:1032px;top:1018px;width:651px;height:3px;background:#363636"></i>
<i style="left:1032px;top:1102px;width:651px;height:3px;background:#363636"></i>
<i style="left:1032px;top:1186px;width:651px;height:3px;background:#363636"></i>
<i style="left:1124px;top:851px;width:3px;height:423px;background:#363636"></i>
<i style="left:1216px;top:851px;width:3px;height:423px;background:#363636"></i>
<i style="left:1310px;top:851px;width:3px;height:423px;background:#363636"></i>
<i style="left:1402px;top:851px;width:3px;height:423px;background:#363636"></i>
<i style="left:1496px;top:851px;width:3px;height:423px;background:#363636"></i>
<i style="left:1588px;top:851px;width:3px;height:423px;background:#363636"></i>
<i style="left:1029px;top:848px;width:657px;height:6px;background:#262626"></i>
<i style="left:1029px;top:1271px;width:657px;height:6px;background:#262626"></i>
<i style="left:1029px;top:848px;width:6px;height:429px;background:#262626"></i>
<i style="left:1680px;top:848px;width:6px;height:429px;background:#262626"></i>
</body></html>
